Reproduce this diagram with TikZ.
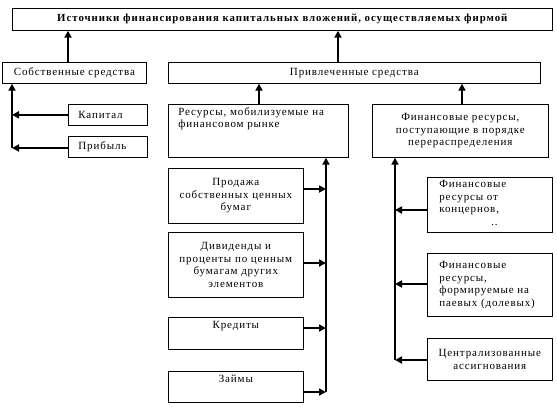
\documentclass[tikz,border=0pt]{standalone}
\usepackage{fontspec}
\setmainfont{Liberation Serif}
\newfontfamily\rs[LetterSpace=8]{Liberation Serif}
\newfontfamily\rsb[LetterSpace=9]{Liberation Serif Bold}
\usetikzlibrary{arrows.meta}
\tikzset{
  bx/.style={draw, line width=0.7pt, inner xsep=4pt, inner ysep=2pt, anchor=north west, font=\fontsize{11}{12.5}\rs},
  conn/.style={line width=2pt, -{Triangle[length=7pt,width=7pt]}}
}
\newcommand{\tb}[4]{\parbox[c][#2][#3]{#1}{#4}}
\begin{document}
\begin{tikzpicture}[x=1pt,y=-1pt]
\useasboundingbox (0,0) rectangle (557,407);
\node[bx, minimum width=540pt, minimum height=22pt, font=\fontsize{10.8}{12.5}\rsb] (top) at (12,8) {Источники финансирования капитальных вложений, осуществляемых фирмой};
\node[bx, minimum width=144pt, minimum height=21pt] (sob) at (2,62) {Собственные средства};
\node[bx, minimum width=372pt, minimum height=21pt] (priv) at (168,62) {Привлеченные средства};
\node[bx, minimum width=79pt, minimum height=21pt, text width=69pt, inner xsep=5pt, align=left] (kap) at (68,104) {\hspace*{5pt}Капитал};
\node[bx, minimum width=79pt, minimum height=21pt, text width=69pt, inner xsep=5pt, align=left] (prib) at (68,136) {\hspace*{5pt}Прибыль};
\node[bx, inner sep=0pt] (res) at (168,104) {\tb{180pt}{53pt}{t}{\vspace{3pt}\leftskip=10pt Ресурсы, мобилизуемые на\\ финансовом рынке}};
\node[bx, inner sep=0pt] (fin) at (372,104) {\tb{176pt}{53pt}{c}{\centering Финансовые ресурсы,\\ поступающие в порядке\\ перераспределения}};
\node[bx, inner sep=0pt] (prod) at (168,168) {\tb{135pt}{55pt}{c}{\centering Продажа\\ собственных ценных\\ бумаг}};
\node[bx, inner sep=0pt] (div) at (168,232) {\tb{135pt}{65pt}{c}{\centering Дивиденды и\\ проценты по ценным\\ бумагам других\\ элементов}};
\node[bx, inner sep=0pt] (kred) at (168,317) {\tb{135pt}{32pt}{t}{\vspace{4pt}\centering Кредиты}};
\node[bx, inner sep=0pt] (zaim) at (168,371) {\tb{135pt}{31pt}{t}{\vspace{4pt}\centering Займы}};
\node[bx, inner sep=0pt] (konc) at (427,177) {\tb{125pt}{55pt}{t}{\vspace{3pt}\leftskip=12pt Финансовые\\ ресурсы от\\ концернов,\\ \hspace*{52pt}..}};
\node[bx, inner sep=0pt] (form) at (427,253) {\tb{125pt}{63pt}{c}{\leftskip=12pt Финансовые\\ ресурсы,\\ формируемые на\\ паевых (долевых)}};
\node[bx, inner sep=0pt] (centr) at (427,338) {\tb{125pt}{42pt}{c}{\centering Централизованные\\ ассигнования}};
% coordinates
\coordinate (lt) at (12,148);
\coordinate (mb) at (326,392);
\coordinate (rb) at (395,360);
% connectors to top
\draw[conn] (sob.north -| 68,0) -- (top.south -| 68,0);
\draw[conn] (priv.north -| 338,0) -- (top.south -| 338,0);
\draw[conn] (res.north -| 259,0) -- (priv.south -| 259,0);
\draw[conn] (fin.north -| 462,0) -- (priv.south -| 462,0);
% left group
\draw[conn] (lt) -- (sob.south -| lt);
\draw[conn] (kap.west) -- (kap.west -| lt);
\draw[conn] (prib.west |- lt) -- (lt);
% middle group
\draw[conn] (mb) -- (res.south -| mb);
\draw[conn] (prod.east |- 0,189) -- (mb |- 0,189);
\draw[conn] (div.east |- 0,263) -- (mb |- 0,263);
\draw[conn] (kred.east |- 0,328) -- (mb |- 0,328);
\draw[conn] (zaim.east |- mb) -- (mb);
% right group
\draw[conn] (rb) -- (fin.south -| rb);
\draw[conn] (konc.west |- 0,210) -- (rb |- 0,210);
\draw[conn] (form.west |- 0,284) -- (rb |- 0,284);
\draw[conn] (centr.west |- rb) -- (rb);
\end{tikzpicture}
\end{document}
